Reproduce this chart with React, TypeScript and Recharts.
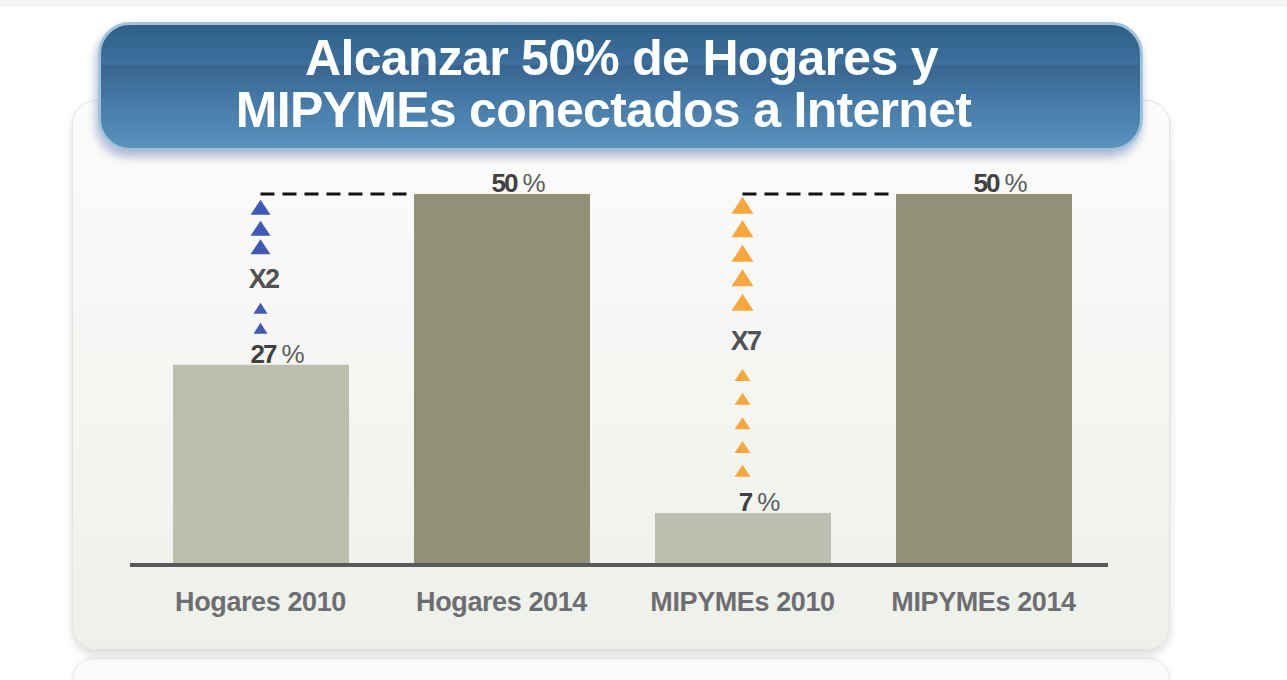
import {
  ComposedChart,
  Bar,
  XAxis,
  YAxis,
  Cell,
  LabelList,
  ReferenceLine,
  ReferenceDot,
} from "recharts";

const CATEGORIES = ["Hogares 2010", "Hogares 2014", "MIPYMEs 2010", "MIPYMEs 2014"];
const VALUES = [27, 50, 7, 50];
const TARGET = 50;

const TITLE_LINES = ["Alcanzar 50% de Hogares y", "MIPYMEs conectados a Internet"];

// arrow markers, in y-axis units, climbing from the 2010 bar to the target
const HOGARES_BIG_ARROWS = [48.2, 45.4, 42.9];
const HOGARES_SMALL_ARROWS = [34.6, 31.9];
const HOGARES_FACTOR = "X2";
const HOGARES_FACTOR_Y = 38.7;

const MIPYMES_BIG_ARROWS = [48.5, 45.3, 42.0, 38.7, 35.4];
const MIPYMES_SMALL_ARROWS = [25.6, 22.4, 19.1, 15.9, 12.7];
const MIPYMES_FACTOR = "X7";
const MIPYMES_FACTOR_Y = 30.3;

const LIGHT_BAR = "#bdbeaf";
const DARK_BAR = "#939079";
const BLUE = "#3f59b6";
const ORANGE = "#f9a63b";
const FONT = "'Liberation Sans', Arial, Helvetica, sans-serif";
const BAR_SIZE = 176;

const data = CATEGORIES.map((name, i) => ({ name, value: VALUES[i] }));
const barColors = [LIGHT_BAR, DARK_BAR, LIGHT_BAR, DARK_BAR];

const triangle = (color: string, w: number, h: number) =>
  function Tri(props: any) {
    const { cx, cy } = props;
    if (cx == null || cy == null) return null;
    const pts = `${cx - w / 2},${cy + h / 2} ${cx + w / 2},${cy + h / 2} ${cx},${cy - h / 2}`;
    return <polygon points={pts} fill={color} />;
  };

const factorText = (label: string) =>
  function Factor(props: any) {
    const { cx, cy } = props;
    if (cx == null || cy == null) return null;
    return (
      <text
        x={cx + 3}
        y={cy + 10}
        textAnchor="middle"
        fontFamily={FONT}
        fontWeight="bold"
        fontSize={27}
        letterSpacing={-1.8}
        fill="#505153"
      >
        {label}
      </text>
    );
  };

// dashed target line that stops at the left edge of the 2014 bar
function TargetLine(props: any) {
  const { x1, y1, x2, y2 } = props;
  if (x1 == null || x2 == null) return null;
  return (
    <line
      x1={x1}
      y1={y1}
      x2={x2 - BAR_SIZE / 2}
      y2={y2}
      stroke="#111111"
      strokeWidth={3}
      strokeDasharray="14 8"
    />
  );
}

function ValueLabel(props: any) {
  const { x, y, width, value } = props;
  const fs = 26;
  const numW = String(value).length * (fs * 0.556 - 2);
  const cx = x + width / 2;
  return (
    <text x={cx - numW / 2 + 2} y={y - 2} fontFamily={FONT} fontSize={fs} fill="#414143">
      <tspan fontWeight="bold" letterSpacing={-2}>
        {value}
      </tspan>
      <tspan dx={6} fill="#5c5d5f" letterSpacing={-1}>
        %
      </tspan>
    </text>
  );
}

function AxisTick(props: any) {
  const { x, y, payload } = props;
  return (
    <text
      x={x}
      y={y + 38}
      textAnchor="middle"
      fontFamily={FONT}
      fontWeight="bold"
      fontSize={27}
      letterSpacing={-0.4}
      fill="#6d6e71"
    >
      {payload.value}
    </text>
  );
}

const titleLine = {
  position: "absolute" as const,
  left: 100,
  textAlign: "center" as const,
  color: "#ffffff",
  fontWeight: "bold" as const,
  fontSize: 50,
  lineHeight: "50px",
  letterSpacing: -0.7,
  whiteSpace: "nowrap" as const,
};

export default function App() {
  const blueBig = triangle(BLUE, 20, 15);
  const blueSmall = triangle(BLUE, 14, 11);
  const orangeBig = triangle(ORANGE, 22, 17);
  const orangeSmall = triangle(ORANGE, 16, 12);

  return (
    <div
      style={{
        position: "absolute",
        left: 0,
        top: 0,
        width: 1287,
        height: 680,
        background: "#ffffff",
        overflow: "hidden",
        fontFamily: FONT,
      }}
    >
      <div style={{ position: "absolute", left: 0, top: 0, width: 1287, height: 7, background: "#f3f4f3" }} />

      {/* next card peeking at the bottom */}
      <div
        style={{
          position: "absolute",
          left: 72,
          top: 658,
          width: 1096,
          height: 60,
          borderRadius: 22,
          background: "#fbfbfb",
          border: "1px solid #e8e9e6",
          boxShadow: "0 0 6px rgba(0,0,0,0.08)",
        }}
      />

      {/* chart card */}
      <div
        style={{
          position: "absolute",
          left: 72,
          top: 100,
          width: 1096,
          height: 548,
          borderRadius: 24,
          background: "linear-gradient(to bottom, #fcfcfb 0%, #f3f5f1 60%, #eef1ea 100%)",
          border: "1px solid #e2e4dd",
          boxShadow: "0 5px 9px rgba(0,0,0,0.14)",
        }}
      />

      {/* title banner */}
      <div
        style={{
          position: "absolute",
          left: 98,
          top: 22,
          width: 1039,
          height: 123,
          borderRadius: 32,
          border: "3px solid #a0c3da",
          background:
            "linear-gradient(to bottom, #2f5f89 0%, #3c719d 32%, #376590 33%, #4479a5 60%, #5a93bd 100%)",
          boxShadow: "-2px 6px 10px rgba(40,60,150,0.35)",
        }}
      />
      <div style={{ ...titleLine, top: 33, width: 1043 }}>{TITLE_LINES[0]}</div>
      <div style={{ ...titleLine, top: 85, width: 1007 }}>{TITLE_LINES[1]}</div>

      <div style={{ position: "absolute", left: 0, top: 0 }}>
        <ComposedChart
          width={1287}
          height={680}
          data={data}
          margin={{ top: 194, left: 130, right: 179, bottom: 65 }}
        >
          <YAxis hide domain={[0, TARGET]} />
          <XAxis
            dataKey="name"
            height={50}
            interval={0}
            padding={{ left: 10, right: 4 }}
            axisLine={{ stroke: "#58595b", strokeWidth: 4 }}
            tickLine={false}
            tick={<AxisTick />}
          />
          <Bar dataKey="value" barSize={BAR_SIZE} isAnimationActive={false}>
            {data.map((d, i) => (
              <Cell key={d.name} fill={barColors[i]} />
            ))}
            <LabelList dataKey="value" content={<ValueLabel />} />
          </Bar>
          <ReferenceLine
            segment={[
              { x: CATEGORIES[0], y: TARGET },
              { x: CATEGORIES[1], y: TARGET },
            ]}
            shape={TargetLine}
          />
          <ReferenceLine
            segment={[
              { x: CATEGORIES[2], y: TARGET },
              { x: CATEGORIES[3], y: TARGET },
            ]}
            shape={TargetLine}
          />
          {HOGARES_BIG_ARROWS.map((v) => (
            <ReferenceDot key={`hb${v}`} x={CATEGORIES[0]} y={v} shape={blueBig} />
          ))}
          {HOGARES_SMALL_ARROWS.map((v) => (
            <ReferenceDot key={`hs${v}`} x={CATEGORIES[0]} y={v} shape={blueSmall} />
          ))}
          <ReferenceDot x={CATEGORIES[0]} y={HOGARES_FACTOR_Y} shape={factorText(HOGARES_FACTOR)} />
          {MIPYMES_BIG_ARROWS.map((v) => (
            <ReferenceDot key={`mb${v}`} x={CATEGORIES[2]} y={v} shape={orangeBig} />
          ))}
          {MIPYMES_SMALL_ARROWS.map((v) => (
            <ReferenceDot key={`ms${v}`} x={CATEGORIES[2]} y={v} shape={orangeSmall} />
          ))}
          <ReferenceDot x={CATEGORIES[2]} y={MIPYMES_FACTOR_Y} shape={factorText(MIPYMES_FACTOR)} />
        </ComposedChart>
      </div>
    </div>
  );
}
